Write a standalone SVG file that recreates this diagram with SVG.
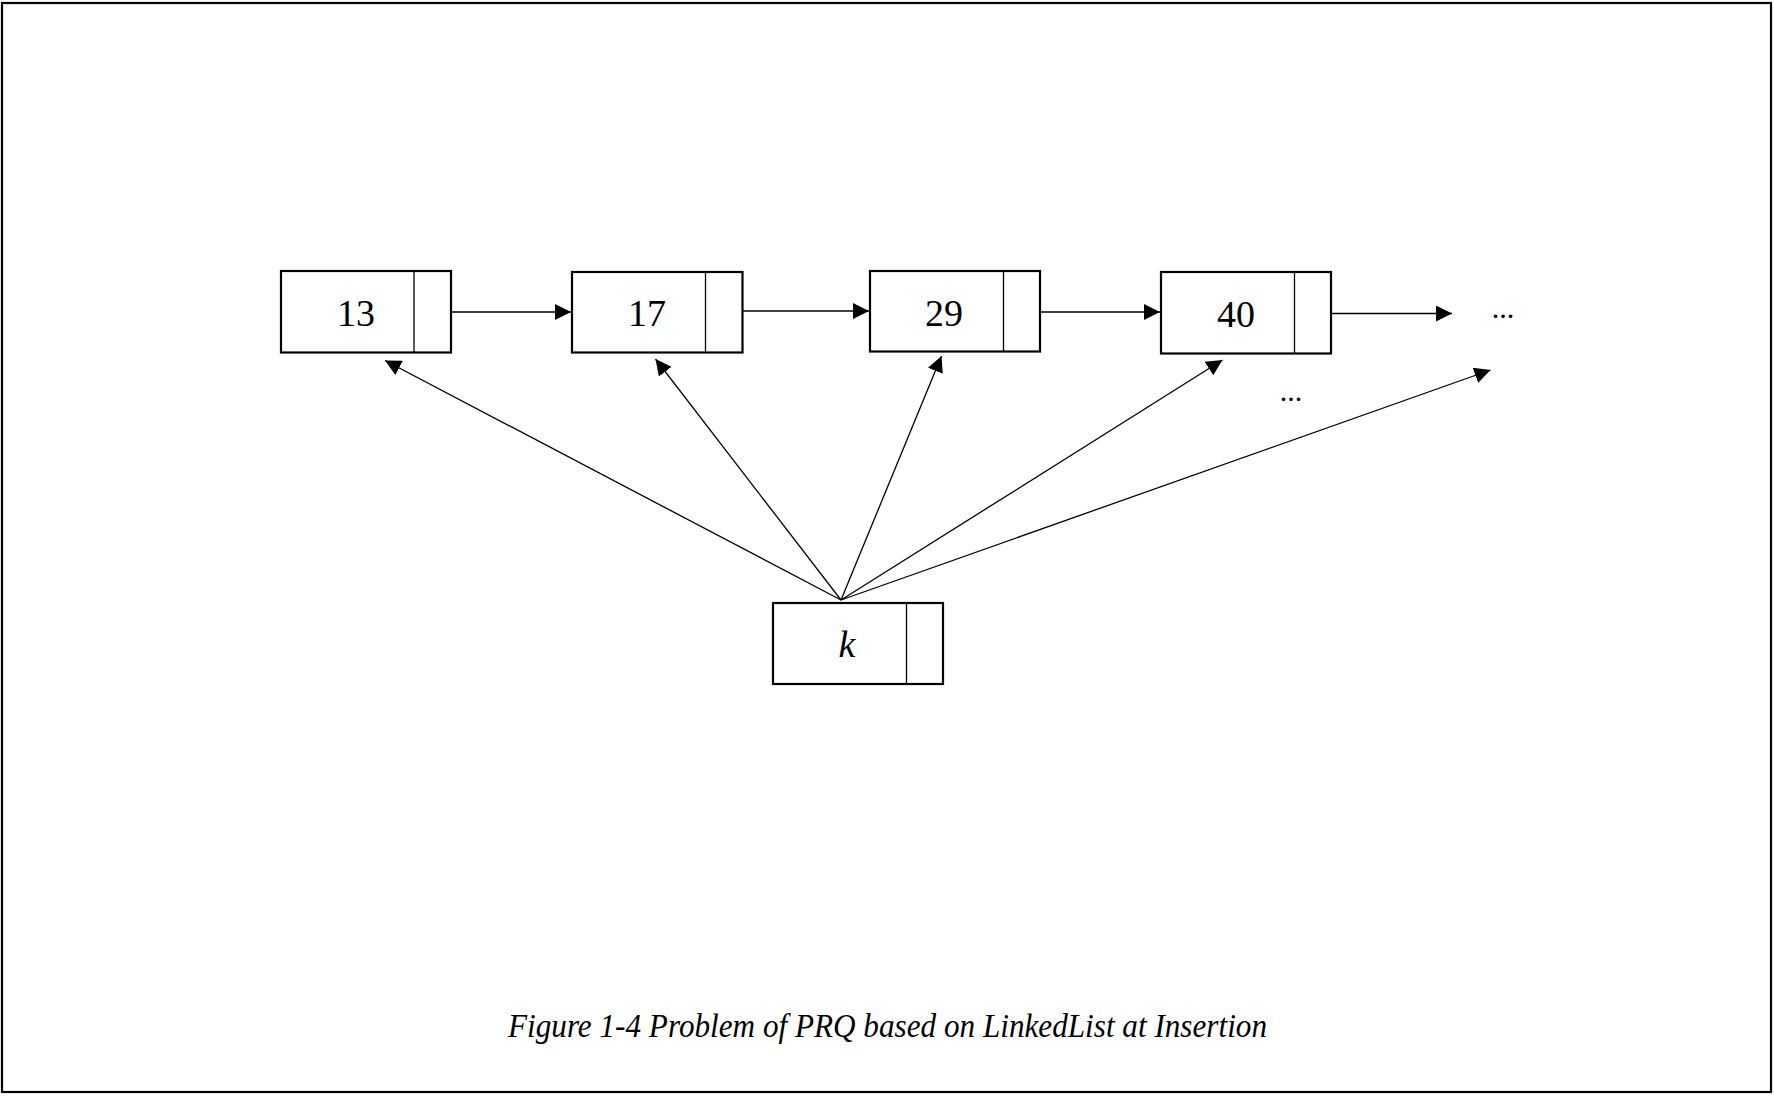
<svg xmlns="http://www.w3.org/2000/svg" width="1774" height="1096" viewBox="0 0 1774 1096">
<defs>
<marker id="ah" markerUnits="userSpaceOnUse" markerWidth="18" markerHeight="16" refX="16" refY="8" orient="auto">
<path d="M0,0 L16,8 L0,16 Z" fill="#000"/>
</marker>
<style>
.box{fill:#fff;stroke:#000;stroke-width:2.2}
.div{stroke:#000;stroke-width:1.3}
.num{font-family:"Liberation Serif","Times New Roman",serif;font-size:38px;fill:#000;text-anchor:middle}
.it{font-style:italic}
.dots{font-family:"Liberation Serif","Times New Roman",serif;font-size:30px;fill:#000;text-anchor:middle}
.ln{stroke:#000;stroke-width:1.3;fill:none;marker-end:url(#ah)}
.cap{font-family:"Liberation Serif","Times New Roman",serif;font-style:italic;font-size:34px;fill:#000}
</style>
</defs>
<rect x="2" y="3" width="1769" height="1089" fill="#fff" stroke="#000" stroke-width="2.2"/>
<g id="connectors">
<line class="ln" x1="451" y1="312" x2="571" y2="312"/>
<line class="ln" x1="743" y1="311" x2="869" y2="311"/>
<line class="ln" x1="1040" y1="312" x2="1160" y2="312"/>
<line class="ln" x1="1331" y1="313.5" x2="1452" y2="313.5"/>
<line class="ln" x1="841" y1="600" x2="385" y2="360.5"/>
<line class="ln" x1="841" y1="600" x2="655.5" y2="359"/>
<line class="ln" x1="841" y1="600" x2="941.5" y2="356"/>
<line class="ln" x1="841" y1="600" x2="1222.5" y2="360"/>
<line class="ln" x1="841" y1="600" x2="1490.5" y2="370"/>
</g>
<g id="node13">
<rect class="box" x="281" y="271" width="170" height="81.5"/>
<line class="div" x1="414" y1="271" x2="414" y2="352.5"/>
<text class="num" x="356" y="326">13</text>
</g>
<g id="node17">
<rect class="box" x="572" y="272" width="170.5" height="80.5"/>
<line class="div" x1="705.5" y1="272" x2="705.5" y2="352.5"/>
<text class="num" x="647" y="326">17</text>
</g>
<g id="node29">
<rect class="box" x="870" y="271" width="170" height="80.5"/>
<line class="div" x1="1003.5" y1="271" x2="1003.5" y2="351.5"/>
<text class="num" x="944" y="326">29</text>
</g>
<g id="node40">
<rect class="box" x="1161" y="272" width="170" height="81.5"/>
<line class="div" x1="1294.5" y1="272" x2="1294.5" y2="353.5"/>
<text class="num" x="1236" y="327">40</text>
</g>
<g id="nodek">
<rect class="box" x="773" y="603" width="170" height="81"/>
<line class="div" x1="906.5" y1="603" x2="906.5" y2="684"/>
<text class="num it" x="847" y="657">k</text>
</g>
<g id="ellipsis1">
<text class="dots" x="1503" y="318">...</text>
</g>
<g id="ellipsis2">
<text class="dots" x="1291" y="401">...</text>
</g>
<text class="cap" x="508" y="1037" textLength="759" lengthAdjust="spacingAndGlyphs">Figure 1-4 Problem of PRQ based on LinkedList at Insertion</text>
</svg>
